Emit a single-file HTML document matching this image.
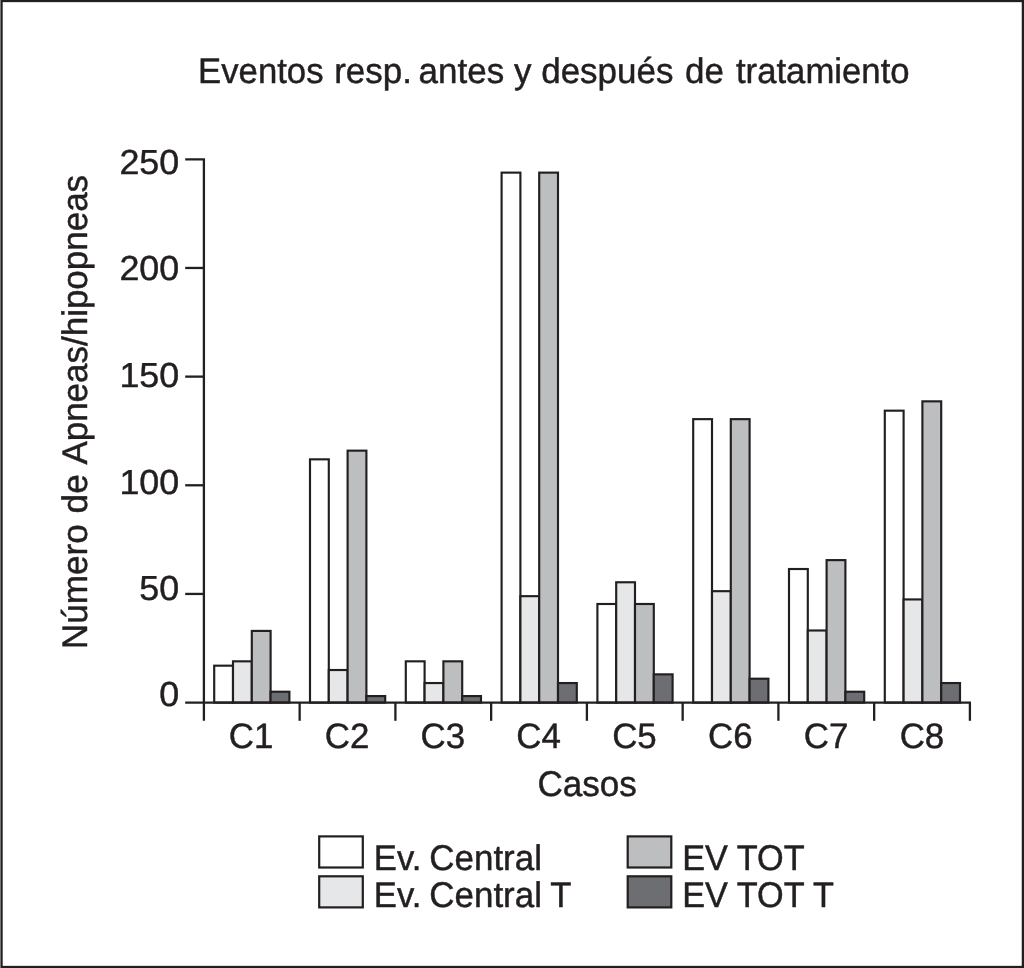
<!DOCTYPE html>
<html lang="es"><head><meta charset="utf-8"><title>Eventos resp. antes y después de tratamiento</title>
<style>
html,body{margin:0;padding:0;background:#fff;}
body{width:1024px;height:968px;overflow:hidden;}
svg{display:block;}
text{font-family:"Liberation Sans",Arial,Helvetica,sans-serif;fill:#231f20;stroke:#231f20;stroke-width:0.45px;stroke-linejoin:round;text-rendering:geometricPrecision;}
</style></head><body>
<svg width="1024" height="968" viewBox="0 0 1024 968">
<rect x="0" y="0" width="1024" height="968" fill="#fff"/>
<rect x="1.55" y="1" width="1021.35" height="966" fill="none" stroke="#231f20" stroke-width="2.3"/>

<g stroke="#231f20" stroke-width="2.15" stroke-linejoin="miter">
<rect x="214.20" y="665.68" width="18.80" height="36.92" fill="#ffffff"/>
<rect x="233.00" y="661.33" width="18.80" height="41.27" fill="#e6e7e8"/>
<rect x="251.80" y="630.92" width="18.80" height="71.68" fill="#bcbec0"/>
<rect x="270.60" y="691.74" width="18.80" height="10.86" fill="#6d6e71"/>
<rect x="310.00" y="459.34" width="18.80" height="243.26" fill="#ffffff"/>
<rect x="328.80" y="670.02" width="18.80" height="32.58" fill="#e6e7e8"/>
<rect x="347.60" y="450.65" width="18.80" height="251.95" fill="#bcbec0"/>
<rect x="366.40" y="696.08" width="18.80" height="6.52" fill="#6d6e71"/>
<rect x="405.80" y="661.33" width="18.80" height="41.27" fill="#ffffff"/>
<rect x="424.60" y="683.05" width="18.80" height="19.55" fill="#e6e7e8"/>
<rect x="443.40" y="661.33" width="18.80" height="41.27" fill="#bcbec0"/>
<rect x="462.20" y="696.08" width="18.80" height="6.52" fill="#6d6e71"/>
<rect x="501.60" y="172.63" width="18.80" height="529.97" fill="#ffffff"/>
<rect x="520.40" y="596.17" width="18.80" height="106.43" fill="#e6e7e8"/>
<rect x="539.20" y="172.63" width="18.80" height="529.97" fill="#bcbec0"/>
<rect x="558.00" y="683.05" width="18.80" height="19.55" fill="#6d6e71"/>
<rect x="597.40" y="603.99" width="18.80" height="98.61" fill="#ffffff"/>
<rect x="616.20" y="582.27" width="18.80" height="120.33" fill="#e6e7e8"/>
<rect x="635.00" y="603.99" width="18.80" height="98.61" fill="#bcbec0"/>
<rect x="653.80" y="674.36" width="18.80" height="28.24" fill="#6d6e71"/>
<rect x="693.20" y="419.15" width="18.80" height="283.45" fill="#ffffff"/>
<rect x="712.00" y="591.18" width="18.80" height="111.42" fill="#e6e7e8"/>
<rect x="730.80" y="419.15" width="18.80" height="283.45" fill="#bcbec0"/>
<rect x="749.60" y="678.71" width="18.80" height="23.89" fill="#6d6e71"/>
<rect x="789.00" y="569.02" width="18.80" height="133.58" fill="#ffffff"/>
<rect x="807.80" y="630.49" width="18.80" height="72.11" fill="#e6e7e8"/>
<rect x="826.60" y="560.12" width="18.80" height="142.48" fill="#bcbec0"/>
<rect x="845.40" y="691.74" width="18.80" height="10.86" fill="#6d6e71"/>
<rect x="884.80" y="410.68" width="18.80" height="291.92" fill="#ffffff"/>
<rect x="903.60" y="599.43" width="18.80" height="103.17" fill="#e6e7e8"/>
<rect x="922.40" y="401.34" width="18.80" height="301.26" fill="#bcbec0"/>
<rect x="941.20" y="683.05" width="18.80" height="19.55" fill="#6d6e71"/>
</g>
<g stroke="#231f20" stroke-width="2.3" fill="none">
<path d="M185.2 159.3H203.9V720.8"/>
<path d="M185.2 702.6H971"/>
<path d="M185.2 267.96H203.9"/>
<path d="M185.2 376.62H203.9"/>
<path d="M185.2 485.28H203.9"/>
<path d="M185.2 593.94H203.9"/>
<path d="M299.65 702.6V720.8"/>
<path d="M395.40 702.6V720.8"/>
<path d="M491.15 702.6V720.8"/>
<path d="M586.90 702.6V720.8"/>
<path d="M682.65 702.6V720.8"/>
<path d="M778.40 702.6V720.8"/>
<path d="M874.15 702.6V720.8"/>
<path d="M969.90 702.6V720.8"/>
</g>
<text transform="translate(0 83.20) scale(1 1.0200)" font-size="35.0"><tspan x="198.10" textLength="125.45" lengthAdjust="spacingAndGlyphs">Eventos</tspan> <tspan x="334.20">resp.</tspan> <tspan x="418.60">antes</tspan> <tspan x="514.00">y</tspan> <tspan x="541.20">después</tspan> <tspan x="685.10">de</tspan> <tspan x="735.95" textLength="173.68" lengthAdjust="spacingAndGlyphs">tratamiento</tspan></text>
<text transform="translate(119.40 173.90) scale(1.0000 0.9680)" font-size="35.9">250</text>
<text transform="translate(119.40 280.10) scale(1.0000 0.9680)" font-size="35.9">200</text>
<text transform="translate(119.40 386.70) scale(1.0000 0.9680)" font-size="35.9">150</text>
<text transform="translate(119.40 493.50) scale(1.0000 0.9680)" font-size="35.9">100</text>
<text transform="translate(139.37 600.10) scale(1.0000 0.9680)" font-size="35.9">50</text>
<text transform="translate(159.33 706.40) scale(1.0000 0.9680)" font-size="35.9">0</text>
<text transform="translate(228.85 747.90) scale(1.0000 1.0120)" font-size="34.9">C1</text>
<text transform="translate(324.69 747.90) scale(1.0000 1.0120)" font-size="34.9">C2</text>
<text transform="translate(420.51 747.90) scale(1.0000 1.0120)" font-size="34.9">C3</text>
<text transform="translate(516.35 747.90) scale(1.0000 1.0120)" font-size="34.9">C4</text>
<text transform="translate(612.17 747.90) scale(1.0000 1.0120)" font-size="34.9">C5</text>
<text transform="translate(708.00 747.90) scale(1.0000 1.0120)" font-size="34.9">C6</text>
<text transform="translate(803.84 747.90) scale(1.0000 1.0120)" font-size="34.9">C7</text>
<text transform="translate(899.66 747.90) scale(1.0000 1.0120)" font-size="34.9">C8</text>
<text transform="translate(537.45 796.00) scale(1.0000 1.0170)" font-size="35.1">Casos</text>
<text transform="translate(87.00 0) rotate(-90) scale(1 1.0110)" font-size="35.16"><tspan x="-649.31">Número</tspan> <tspan x="-513.41">de</tspan> <tspan x="-464.60" textLength="289.69" lengthAdjust="spacingAndGlyphs">Apneas/hipopneas</tspan></text>
<g stroke="#231f20" stroke-width="2.2">
<rect x="319.2" y="836.4" width="43.6" height="31.1" fill="#ffffff"/>
<rect x="319.2" y="876.3" width="43.6" height="31.1" fill="#e6e7e8"/>
<rect x="627.7" y="836.4" width="43.6" height="31.1" fill="#bcbec0"/>
<rect x="627.7" y="876.3" width="43.6" height="31.1" fill="#6d6e71"/>
</g>
<text transform="translate(0 869.60) scale(1 1.0280)" font-size="34.7"><tspan x="373.82">Ev.</tspan> <tspan x="429.26" textLength="112.75" lengthAdjust="spacingAndGlyphs">Central</tspan></text>
<text transform="translate(0 906.90) scale(1 1.0280)" font-size="34.7"><tspan x="373.82">Ev.</tspan> <tspan x="429.26" textLength="112.75" lengthAdjust="spacingAndGlyphs">Central</tspan> <tspan x="550.21">T</tspan></text>
<text transform="translate(682.16 869.50) scale(0.9930 1.0340)" font-size="34.5">EV TOT</text>
<text transform="translate(682.16 906.90) scale(0.9930 1.0340)" font-size="34.5">EV TOT T</text>
</svg></body></html>
